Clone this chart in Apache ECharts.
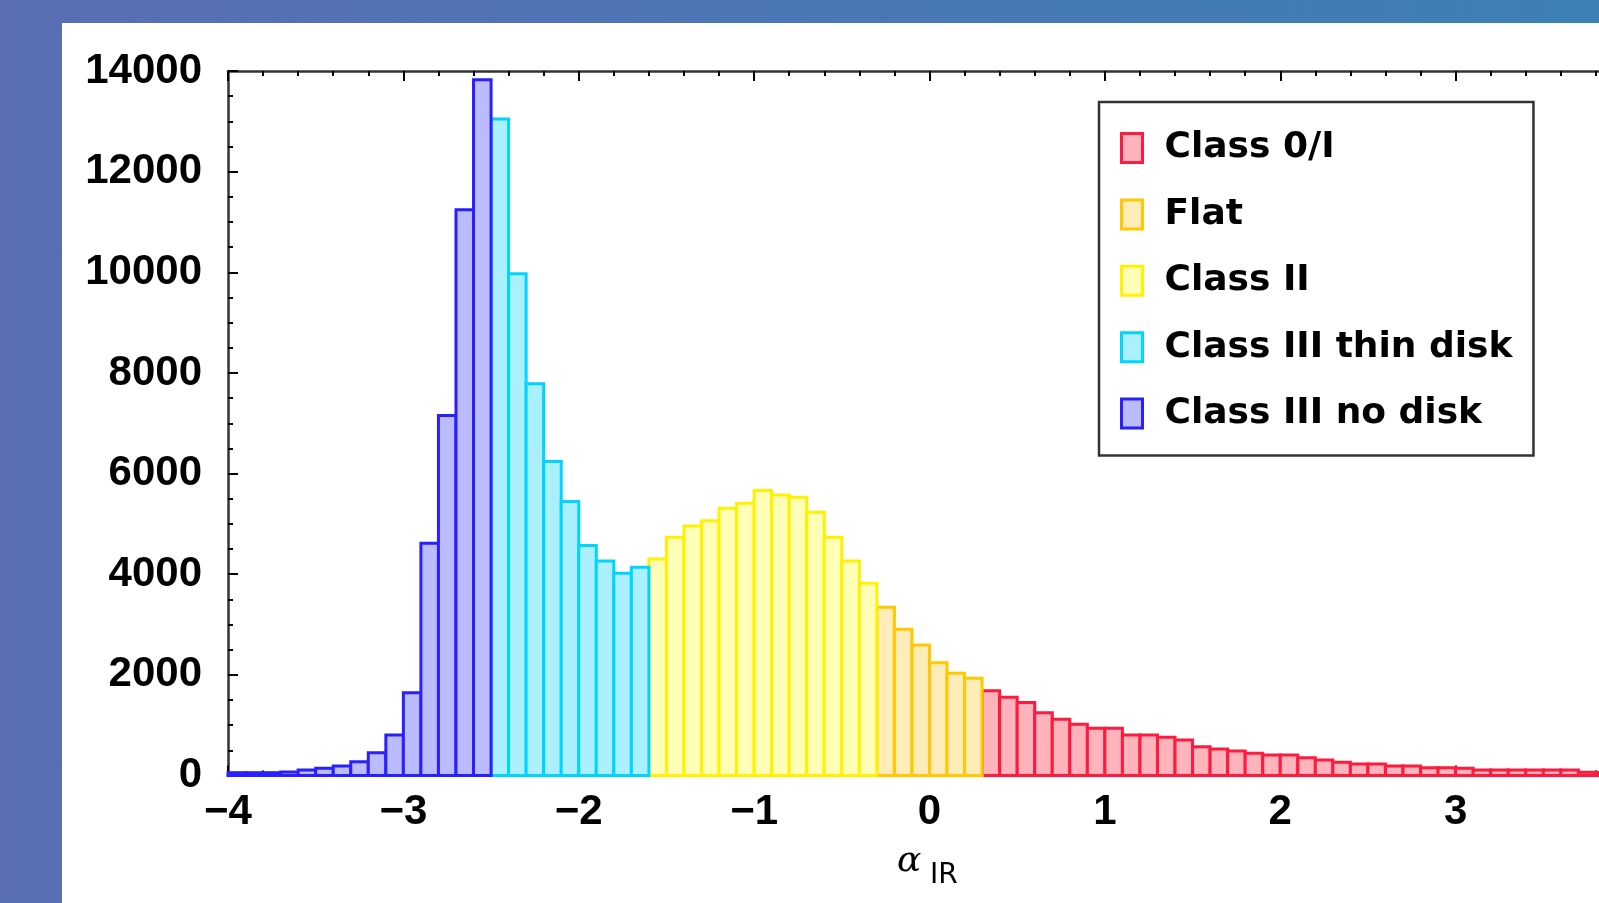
<!DOCTYPE html>
<html>
<head>
<meta charset="utf-8">
<script src="https://cdn.jsdelivr.net/npm/echarts@6/dist/echarts.min.js"></script>
<style>
  html, body { margin: 0; padding: 0; width: 1599px; height: 903px; overflow: hidden; }
  body { background: linear-gradient(to right, #5a6db5, #3c80b5); position: relative; }
  #panel { position: absolute; left: 62px; top: 23px; width: 1569px; height: 880px; background: #ffffff; }
</style>
</head>
<body>
<div id="panel"></div>
<script>
// Histogram: bins of width 0.1 starting at -4.0
const firstEdge = -4.0;
const binWidth = 0.1;
const counts = [
  56, 56, 56, 70, 109, 143, 189, 275, 453, 805,
  1646, 4616, 7153, 11242, 13826, 13046, 9970, 7783, 6238, 5443,
  4569, 4264, 4019, 4138, 4304, 4735, 4960, 5060, 5312, 5411,
  5662, 5576, 5530, 5232, 4735, 4264, 3821, 3344, 2906, 2594,
  2243, 2031, 1932, 1686, 1555, 1450, 1245, 1117, 1018, 938,
  938, 805, 805, 759, 706, 573, 527, 487, 441, 408,
  408, 354, 308, 262, 229, 229, 189, 189, 155, 155,
  143, 109, 109, 109, 109, 109, 109, 64, 60, 50
];
// class boundaries in alpha_IR
const classNames = ['Class 0/I', 'Flat', 'Class II', 'Class III thin disk', 'Class III no disk'];
const classLow  = [0.3, -0.3, -1.6, -2.5, -99];
const classHigh = [99, 0.3, -0.3, -1.6, -2.5];
const fillColors   = ['#ffb3bb', '#ffecb8', '#ffffb8', '#aaf0ff', '#bbbbff'];
const strokeColors = ['#ff1a40', '#ffc800', '#fff200', '#00d4ff', '#2a20ff'];
const xTicks = [-4, -3, -2, -1, 0, 1, 2, 3, 4];
const yTicks = [0, 2000, 4000, 6000, 8000, 10000, 12000, 14000];

const seriesData = classNames.map(() => []);
counts.forEach((c, i) => {
  const x0 = +(firstEdge + i * binWidth).toFixed(2);
  const x1 = +(x0 + binWidth).toFixed(2);
  const mid = (x0 + x1) / 2;
  for (let k = 0; k < classNames.length; k++) {
    if (mid >= classLow[k] && mid < classHigh[k]) { seriesData[k].push([x0, x1, c]); break; }
  }
});

const chart = echarts.init(document.getElementById('panel'), null, { renderer: 'canvas' });

const labelFont = { fontFamily: 'Liberation Sans, Arial, sans-serif', fontWeight: 'bold', fontSize: 42, color: '#000' };
const fmt = v => (v < 0 ? '\u2212' + Math.abs(v) : String(v));

const xBase = {
  type: 'value', min: xTicks[0], max: xTicks[xTicks.length - 1], interval: 1,
  axisLine: { show: true, onZero: false, lineStyle: { color: '#333', width: 2.5 } },
  axisTick: { show: true, inside: true, length: 10, lineStyle: { color: '#000', width: 2 } },
  minorTick: { show: true, splitNumber: 5, length: 5, lineStyle: { color: '#000', width: 2 } },
  splitLine: { show: false }, minorSplitLine: { show: false }
};
const yBase = {
  type: 'value', min: yTicks[0], max: yTicks[yTicks.length - 1], interval: 2000,
  axisLine: { show: true, onZero: false, lineStyle: { color: '#333', width: 2.5 } },
  axisTick: { show: true, inside: true, length: 10, lineStyle: { color: '#000', width: 2 } },
  minorTick: { show: true, splitNumber: 4, length: 5, lineStyle: { color: '#000', width: 2 } },
  splitLine: { show: false }, minorSplitLine: { show: false }
};

const option = {
  animation: false,
  backgroundColor: '#ffffff',
  grid: { left: 166, top: 48, bottom: 127.5, right: 0, containLabel: false },
  xAxis: [
    Object.assign({}, xBase, { position: 'bottom', axisLabel: Object.assign({ margin: 16, formatter: fmt, showMaxLabel: false }, labelFont) }),
    Object.assign({}, xBase, { position: 'top', axisLabel: { show: false } })
  ],
  yAxis: [
    Object.assign({}, yBase, { position: 'left', axisLabel: Object.assign({ margin: 26, formatter: fmt }, labelFont) }),
    Object.assign({}, yBase, { position: 'right', axisLabel: { show: false } })
  ],
  legend: {
    orient: 'vertical', left: 1037, top: 79,
    padding: [26, 21, 22, 21],
    borderColor: '#333', borderWidth: 2.5,
    itemWidth: 21, itemHeight: 29, itemGap: 26.4,
    textStyle: { fontFamily: 'DejaVu Sans, sans-serif', fontWeight: 'bold', fontSize: 36, color: '#000', lineHeight: 40, padding: [0, 0, 0, 17] },
    data: classNames.map((n, k) => ({ name: n, icon: 'rect', itemStyle: { color: fillColors[k], borderColor: strokeColors[k], borderWidth: 3 } }))
  },
  graphic: [
    { type: 'text', left: 835, top: 821, style: { text: '\u03b1', font: 'italic 36px "DejaVu Serif", serif', fill: '#000' } },
    { type: 'text', left: 868, top: 839, style: { text: 'IR', font: '28px "DejaVu Sans", sans-serif', fill: '#000' } }
  ],
  series: classNames.map((n, k) => ({
    type: 'custom', name: n,
    itemStyle: { color: fillColors[k], borderColor: strokeColors[k] },
    encode: { x: [0, 1], y: 2 },
    data: seriesData[k],
    renderItem: (params, api) => {
      const p0 = api.coord([api.value(0), api.value(2)]);
      const p1 = api.coord([api.value(1), 0]);
      return {
        type: 'rect',
        shape: { x: p0[0], y: p0[1], width: p1[0] - p0[0], height: p1[1] - p0[1] },
        style: { fill: fillColors[k], stroke: strokeColors[k], lineWidth: 3 }
      };
    }
  }))
};
chart.setOption(option);
</script>
</body>
</html>
